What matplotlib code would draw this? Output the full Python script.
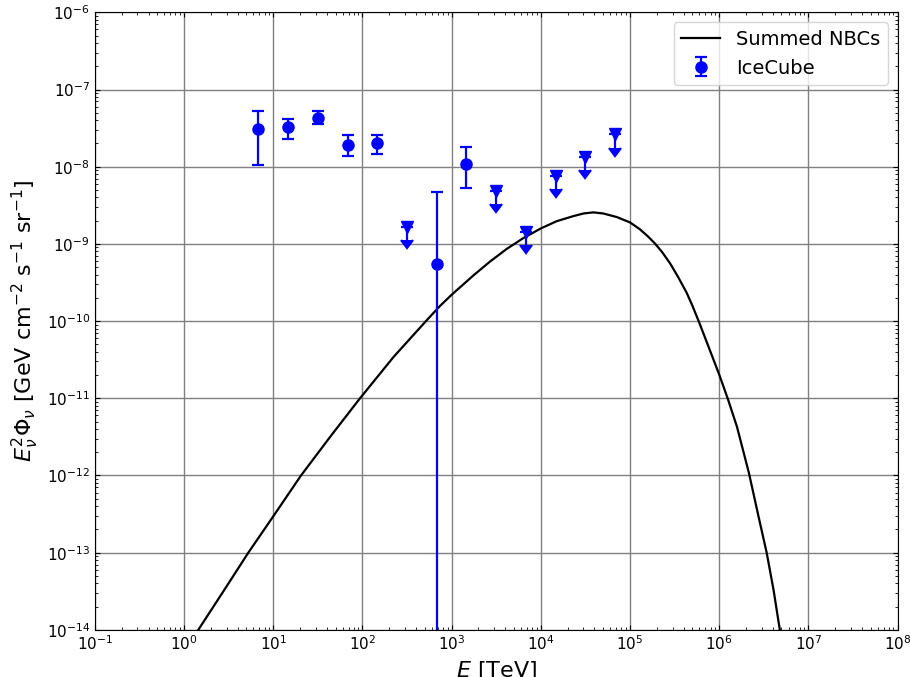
import numpy as np
import matplotlib
matplotlib.use('Agg')
import matplotlib.pyplot as plt

# Summed NBCs model curve (TeV, GeV cm^-2 s^-1 sr^-1)
model_E = [1.445, 2.818, 5.26, 10.0, 20.5, 44.7, 94.0, 224.0, 516.0, 741.0,
           1000.0, 1750.0, 2690.0, 4150.0, 6460.0, 1.0e4, 1.51e4, 2.32e4,
           3.02e4, 3.88e4, 5.01e4, 7.10e4, 1.0e5, 1.29e5, 1.58e5, 1.91e5,
           2.29e5, 2.81e5, 3.47e5, 4.33e5, 5.01e5, 5.89e5, 7.59e5, 1.0e6,
           1.245e6, 1.585e6, 2.16e6, 2.75e6, 3.41e6, 4.07e6, 4.79e6]
model_flux = [1.0e-14, 3.27e-14, 1.0e-13, 2.95e-13, 1.0e-12, 3.30e-12,
              1.0e-11, 3.44e-11, 1.0e-10, 1.57e-10, 2.19e-10, 3.89e-10,
              5.89e-10, 8.61e-10, 1.20e-9, 1.585e-9, 1.97e-9, 2.29e-9,
              2.48e-9, 2.56e-9, 2.48e-9, 2.23e-9, 1.90e-9, 1.55e-9,
              1.26e-9, 1.01e-9, 7.85e-10, 5.62e-10, 3.72e-10, 2.32e-10,
              1.585e-10, 1.0e-10, 4.68e-11, 2.04e-11, 1.0e-11, 4.27e-12,
              1.07e-12, 3.02e-13, 1.0e-13, 3.31e-14, 1.0e-14]

# IceCube data points with error bars
ic_E = [6.81, 14.7, 31.6, 68.1, 147.0, 681.0, 1468.0]
ic_flux = [3.1e-8, 3.25e-8, 4.3e-8, 1.9e-8, 2.0e-8, 5.55e-10, 1.07e-8]
ic_up = [5.3e-8, 4.2e-8, 5.2e-8, 2.56e-8, 2.56e-8, 4.67e-9, 1.79e-8]
ic_lo = [1.05e-8, 2.27e-8, 3.57e-8, 1.38e-8, 1.48e-8, 0.0, 5.26e-9]

# IceCube upper limits
ul_E = [316.0, 3162.0, 6813.0, 14678.0, 31623.0, 68129.0]
ul_flux = [1.68e-9, 4.86e-9, 1.44e-9, 7.6e-9, 1.34e-8, 2.62e-8]

ic_flux = np.array(ic_flux)
yerr = [ic_flux - np.maximum(np.array(ic_lo), 1e-20),
        np.array(ic_up) - ic_flux]
ul_flux = np.array(ul_flux)
ul_err = [0.33 * ul_flux, np.zeros_like(ul_flux)]

fig = plt.figure(figsize=(9.1, 6.77), dpi=100)
ax = fig.add_axes([0.1042, 0.0696, 0.8821, 0.9122])

ax.plot(model_E, model_flux, color='black', lw=1.6, label='Summed NBCs')
ax.errorbar(ic_E, ic_flux, yerr=yerr, fmt='o', color='blue', ms=8,
            elinewidth=1.6, capsize=4, capthick=1.6, label='IceCube')
ax.errorbar(ul_E, ul_flux, yerr=ul_err, uplims=True, fmt='v', color='blue',
            ms=8, elinewidth=1.6, capsize=4, capthick=1.6)

ax.set_xscale('log')
ax.set_yscale('log')
ax.set_xlim(1e-1, 1e8)
ax.set_ylim(1e-14, 1e-6)
ax.set_xticks([10.0 ** k for k in range(-1, 9)])
ax.set_yticks([10.0 ** k for k in range(-14, -5)])
ax.grid(True, which='major', color='gray', lw=1)
ax.tick_params(which='both', direction='in', top=True, right=True,
               labelsize=11)
ax.set_xlabel(r'$E$ [TeV]', fontsize=16)
ax.set_ylabel(r'$E_\nu^2\Phi_\nu$ [GeV cm$^{-2}$ s$^{-1}$ sr$^{-1}$]',
              fontsize=16)
ax.legend(loc='upper right', fontsize=14)

fig.savefig('out.png', dpi=100)
